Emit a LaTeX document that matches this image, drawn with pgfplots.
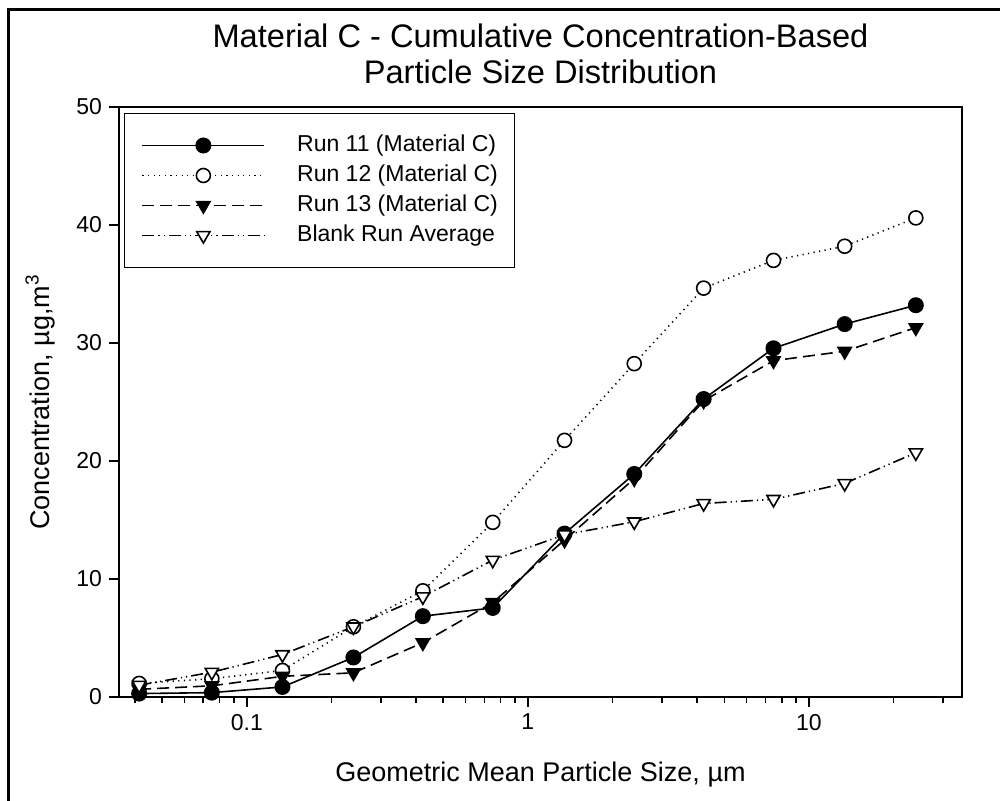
\documentclass[border=0pt]{standalone}
\usepackage{fontspec}
\setmainfont{Liberation Sans}
\usepackage{pgfplots}
\pgfplotsset{compat=1.18}
\begin{document}
\begin{tikzpicture}
\begin{axis}[
  at={(59.5pt,52pt)}, anchor=south west,
  scale only axis, width=421.5pt, height=295pt,
  xmode=log, xmin=0.0351, xmax=35.04,
  ymin=0, ymax=50,
  xtick={0.1,1,10}, xticklabels={0.1,1,10},
  minor xtick={0.04,0.05,0.06,0.07,0.08,0.09,0.2,0.3,0.4,0.5,0.6,0.7,0.8,0.9,2,3,4,5,6,7,8,9,20,30},
  ytick={0,10,20,30,40,50},
  tick pos=left, tick align=outside,
  major tick length=5pt, minor tick length=3pt,
  every tick/.style={black, line width=0.8pt},
  axis line style={line width=0.9pt},
  ticklabel style={font=\fontsize{11.5}{13}\selectfont},
  /pgf/number format/assume math mode=true,
  title={Material C - Cumulative Concentration-Based\\Particle Size Distribution},
  title style={at={(axis description cs:0.5,1.070)}, anchor=center, align=center,
    font=\fontsize{16.3}{18}\selectfont},
  xlabel={Geometric Mean Particle Size, µm},
  xlabel style={at={(axis description cs:0.5,-0.144)}, anchor=base,
    font=\fontsize{13.5}{16}\selectfont},
  ylabel={Concentration, µg,m\textsuperscript{3}},
  ylabel style={at={(axis description cs:-0.0937,0.5)}, anchor=center,
    font=\fontsize{13.5}{16}\selectfont},
  legend style={at={(axis description cs:0.0059,0.990)}, anchor=north west,
    draw=black, line width=0.6pt, inner xsep=8.5pt, inner ysep=10.5pt,
    row sep=4pt, /tikz/column sep=16pt,
    font=\fontsize{11.5}{13}\selectfont,
    nodes={inner sep=0pt, text height=8.5pt, text depth=2.5pt}},
  legend cell align=left,
  legend image code/.code={\draw[mark repeat=2,mark phase=2]
    plot coordinates {(0pt,0pt) (30.5pt,0pt) (61pt,0pt)};},
]
% Run 11
\addplot[black, line width=0.8pt, mark=*, mark size=3.6pt,
  mark options={solid, fill=black}] coordinates {
  (0.0414,0.29) (0.0751,0.37) (0.1339,0.85) (0.2395,3.35) (0.423,6.85) (0.75,7.55)
  (1.35,13.85) (2.39,18.9) (4.22,25.25) (7.48,29.55) (13.4,31.6) (24.0,33.2)};
\addlegendentry{Run 11 (Material C)}
% Run 12
\addplot[black, line width=0.8pt, dash pattern=on 0.6pt off 2.2pt, mark=*, mark size=3.5pt,
  mark options={solid, fill=white}] coordinates {
  (0.0414,1.15) (0.0751,1.55) (0.1339,2.25) (0.2395,5.95) (0.423,9.0) (0.75,14.8)
  (1.35,21.75) (2.39,28.25) (4.22,34.65) (7.48,37.0) (13.4,38.2) (24.0,40.6)};
\addlegendentry{Run 12 (Material C)}
% Run 13
\addplot[black, line width=0.8pt, dash pattern=on 6pt off 3pt, mark=triangle*, mark size=3.8pt,
  mark options={solid, rotate=180, fill=black}] coordinates {
  (0.0414,0.65) (0.0751,0.95) (0.1339,1.75) (0.2395,2.05) (0.423,4.6) (0.75,8.0)
  (1.35,13.3) (2.39,18.5) (4.22,25.1) (7.48,28.5) (13.4,29.3) (24.0,31.3)};
\addlegendentry{Run 13 (Material C)}
% Blank
\addplot[black, line width=0.8pt, dash pattern=on 6pt off 2pt on 0.6pt off 2pt on 0.6pt off 2pt,
  mark=triangle*, mark size=3.8pt,
  mark options={solid, rotate=180, fill=white}] coordinates {
  (0.0414,1.0) (0.0751,2.1) (0.1339,3.6) (0.2395,5.95) (0.423,8.5) (0.75,11.6)
  (1.35,13.75) (2.39,14.85) (4.22,16.4) (7.48,16.75) (13.4,18.1) (24.0,20.7)};
\addlegendentry{Blank Run Average}
\end{axis}
\draw[line width=1.5pt] (4.15pt,-20pt) -- (4.15pt,395.85pt) -- (520pt,395.85pt);
\pgfresetboundingbox
\useasboundingbox (0,0) rectangle (500pt,400.5pt);
\end{tikzpicture}
\end{document}
